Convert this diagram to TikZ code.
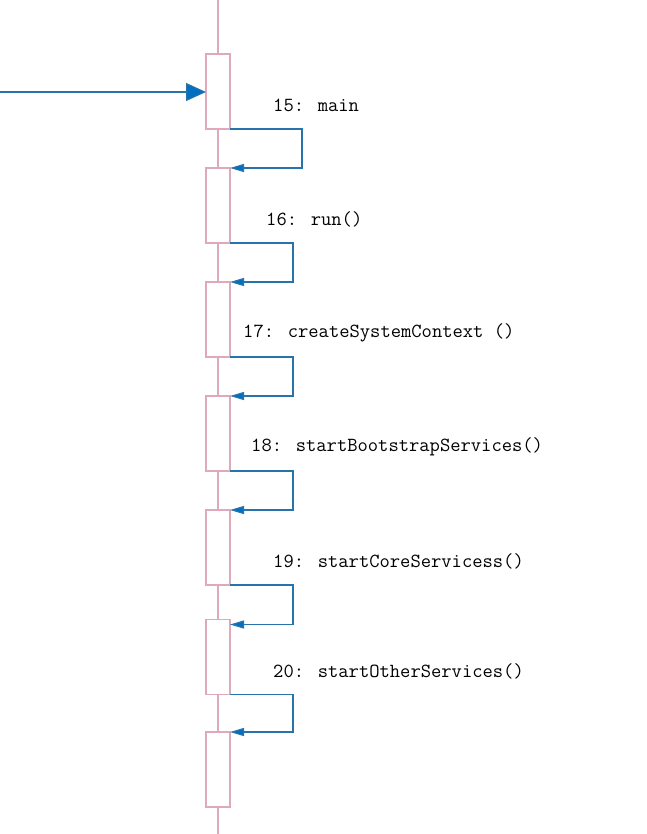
\documentclass[tikz,border=0pt]{standalone}
\usepackage{fontspec}
\usetikzlibrary{arrows.meta,calc}
\definecolor{lifepink}{RGB}{222,170,186}
\definecolor{msgblue}{RGB}{40,115,170}
\definecolor{tipblue}{RGB}{0,112,192}
\begin{document}
\begin{tikzpicture}[x=1pt,y=-1pt,
  act/.style={draw=lifepink,line width=1.1pt,fill=white,minimum width=24pt,minimum height=75pt,inner sep=0pt,outer sep=0pt},
  selfmsg/.style={draw=msgblue,line width=1.2pt,-{Triangle[length=14pt,width=8pt,fill=tipblue]}},
  label/.style={font=\ttfamily\fontsize{20}{22}\selectfont,anchor=west,inner sep=0pt,text=black}
]
\useasboundingbox (0,0) rectangle (646,834);
\fill[white] (0,0) rectangle (646,834);
\coordinate (top) at (218,0);
\coordinate (bot) at (218,834);
\draw[lifepink,line width=1.1pt] (top) -- (bot);
\node[act] (b1) at (218,91.5) {};
\node[act] (b2) at (218,205.5) {};
\node[act] (b3) at (218,319.5) {};
\node[act] (b4) at (218,433.5) {};
\node[act] (b5) at (218,547.5) {};
\node[act] (b6) at (218,657) {};
\node[act] (b7) at (218,769.5) {};
\coordinate (src) at (0,92);
\draw[msgblue,line width=1.2pt,-{Triangle[length=20pt,width=18pt,fill=tipblue]}] (src) -- (b1.west |- src);
\draw[selfmsg] (b1.south east) -- ++(72,0) |- (b2.north east);
\draw[selfmsg] (b2.south east) -- ++(63,0) |- (b3.north east);
\draw[selfmsg] (b3.south east) -- ++(63,0) |- (b4.north east);
\draw[selfmsg] (b4.south east) -- ++(63,0) |- (b5.north east);
\draw[selfmsg] (b5.south east) -- ++(63,0) |- ($(b6.north east)+(0,5)$);
\draw[selfmsg] (b6.south east) -- ++(63,0) |- (b7.north east);
\node[label] (l1) at (273,105) {15: main};
\node[label] (l2) at (266,219) {16: run()};
\node[label] (l3) at (243,333) {17: createSystemContext ()};
\node[label] (l4) at (251,447) {18: startBootstrapServices()};
\node[label] (l5) at (273,561) {19: startCoreServicess()};
\node[label] (l6) at (273,671) {20: startOtherServices()};
\end{tikzpicture}
\end{document}
